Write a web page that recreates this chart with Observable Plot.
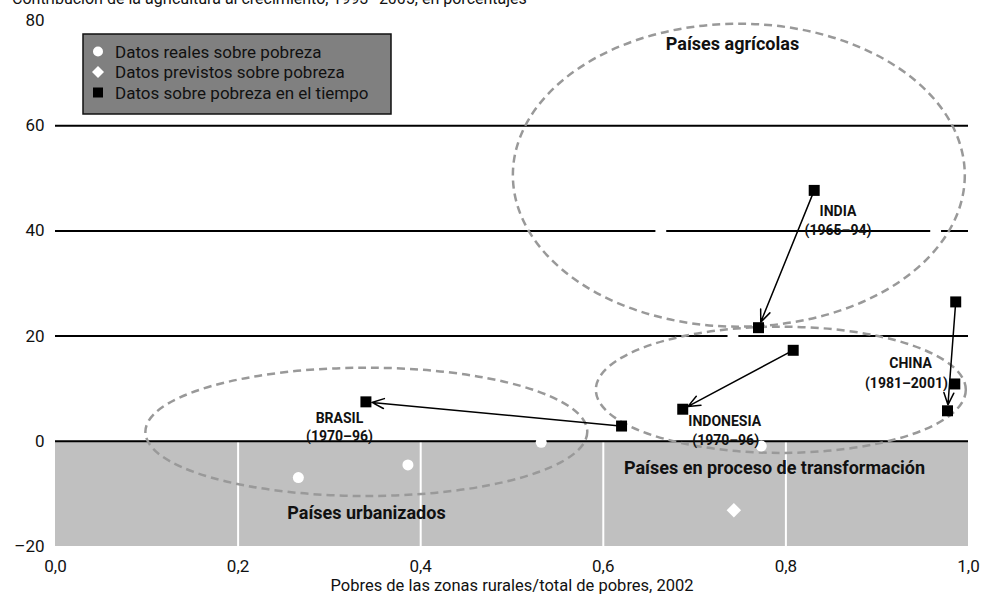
<!DOCTYPE html>
<html>
<head>
<meta charset="utf-8">
<script src="https://cdn.jsdelivr.net/npm/d3@7"></script>
<script src="https://cdn.jsdelivr.net/npm/@observablehq/plot@0.6"></script>
<style>
  body { margin: 0; background: white; width: 982px; height: 599px; overflow: hidden; position: relative;
         font-family: Roboto, "Liberation Sans", sans-serif; }
  #title { position: absolute; top: -9px; left: 12px; font-size: 16px; line-height: 16px; color: #111; white-space: nowrap; z-index: 2; }
  #chart { position: absolute; top: 0; left: 0; z-index: 1; }
</style>
</head>
<body>
<div id="title">Contribución de la agricultura al crecimiento, 1993–2005, en porcentajes</div>
<div id="chart"></div>
<script>
// ---- data ----
const xDomain = [0, 1];
const yDomain = [-20, 80];
const xTicks = [0, 0.2, 0.4, 0.6, 0.8, 1.0];
const xTickLabels = ["0,0", "0,2", "0,4", "0,6", "0,8", "1,0"];
const yTicks = [-20, 0, 20, 40, 60, 80];
const yTickLabels = ["–20", "0", "20", "40", "60", "80"];
const hLines = [0, 20, 40, 60];

// actual poverty data (white circles)
const realX = [0.663, 0.964, 0.742, 0.266, 0.386, 0.532, 0.773];
const realY = [40, 40, 20, -6.9, -4.5, -0.2, -0.9];
// predicted poverty data (white diamond)
const predX = [0.743];
const predY = [-13.1];
// poverty data over time (black squares)
const india = [{x: 0.831, y: 47.7}, {x: 0.770, y: 21.6}];
const indonesia = [{x: 0.808, y: 17.3}, {x: 0.687, y: 6.1}];
const brasil = [{x: 0.620, y: 2.9}, {x: 0.340, y: 7.5}];
const china = [{x: 0.986, y: 26.5}, {x: 0.985, y: 10.9}, {x: 0.977, y: 5.8}];
const series = [india, indonesia, brasil, china];

// group ellipses (data coordinates)
const groups = [
  {cx: 0.749, cy: 50.5, rx: 0.2475, ry: 28.8},
  {cx: 0.341, cy: 1.7, rx: 0.242, ry: 12.2},
  {cx: 0.795, cy: 9.7, rx: 0.2026, ry: 12.0}
];
const groupLabels = ["Países agrícolas", "Países urbanizados", "Países en proceso de transformación"];
const groupLabelX = [0.7415, 0.3406, 0.7875];
const groupLabelY = [75.4, -13.7, -5.1];

const countryNames = ["INDIA", "(1965–94)", "BRASIL", "(1970–96)", "INDONESIA", "(1970–96)", "CHINA", "(1981–2001)"];
const countryX = [0.857, 0.857, 0.311, 0.311, 0.733, 0.734, 0.9365, 0.932];
const countryY = [43.6, 40.0, 4.4, 0.95, 3.8, 0.2, 14.7, 10.9];

const legendItems = ["Datos reales sobre pobreza", "Datos previstos sobre pobreza", "Datos sobre pobreza en el tiempo"];
const xLabel = "Pobres de las zonas rurales/total de pobres, 2002";

// ---- build ----
const FONT = 'Roboto, "Liberation Sans", sans-serif';
const realPts = realX.map((x, i) => ({x, y: realY[i]}));
const predPts = predX.map((x, i) => ({x, y: predY[i]}));
const squares = series.flat();
const arrows = series.map(s => ({x1: s[0].x, y1: s[0].y, x2: s[s.length - 1].x, y2: s[s.length - 1].y}));
const gLabels = groupLabels.map((t, i) => ({t, x: groupLabelX[i], y: groupLabelY[i]}));
const cLabels = countryNames.map((t, i) => ({t, x: countryX[i], y: countryY[i]}));

function ellipseMark(index, scales) {
  const g = d3.create("svg:g");
  for (const e of groups) {
    const cx = scales.x(e.cx), cy = scales.y(e.cy);
    g.append("ellipse")
      .attr("cx", cx).attr("cy", cy)
      .attr("rx", Math.abs(scales.x(e.cx + e.rx) - cx))
      .attr("ry", Math.abs(scales.y(e.cy - e.ry) - cy))
      .attr("fill", "none").attr("stroke", "#999")
      .attr("stroke-width", 2.5).attr("stroke-dasharray", "8,5");
  }
  return g.node();
}

function legendMark(index, scales, values, dims) {
  const g = d3.create("svg:g");
  const x0 = dims.marginLeft + 28, y0 = dims.marginTop + 14;
  g.append("rect").attr("x", x0).attr("y", y0).attr("width", 308).attr("height", 80)
    .attr("fill", "#808080").attr("stroke", "#111").attr("stroke-width", 1.5);
  legendItems.forEach((t, i) => {
    const cy = y0 + 17.5 + i * 20.5;
    const mx = x0 + 15;
    if (i === 0) g.append("circle").attr("cx", mx).attr("cy", cy).attr("r", 5).attr("fill", "white");
    else if (i === 1) g.append("path").attr("d", `M${mx},${cy - 6}L${mx + 6},${cy}L${mx},${cy + 6}L${mx - 6},${cy}Z`).attr("fill", "white");
    else g.append("rect").attr("x", mx - 5).attr("y", cy - 5).attr("width", 10).attr("height", 10).attr("fill", "black");
    g.append("text").attr("x", x0 + 32).attr("y", cy).attr("dy", "0.36em")
      .attr("text-anchor", "start")
      .attr("font-size", 17).attr("font-family", FONT).attr("fill", "#111").text(t);
  });
  return g.node();
}

const chart = Plot.plot({
  width: 982,
  height: 599,
  marginLeft: 55,
  marginRight: 14,
  marginTop: 20,
  marginBottom: 53,
  style: {fontFamily: FONT, fontSize: "17px", color: "#111", background: "transparent"},
  x: {domain: xDomain, ticks: xTicks, tickFormat: d => xTickLabels[xTicks.indexOf(d)], tickSize: 0, tickPadding: 13, label: null},
  y: {domain: yDomain, ticks: yTicks, tickFormat: d => yTickLabels[yTicks.indexOf(d)], tickSize: 0, tickPadding: 11, label: null},
  marks: [
    Plot.rect([{}], {x1: xDomain[0], x2: xDomain[1], y1: yDomain[0], y2: 0, fill: "#c0c0c0"}),
    Plot.ruleX(xTicks.slice(1, -1), {y1: yDomain[0], y2: 0, stroke: "white", strokeWidth: 2}),
    Plot.ruleY(hLines, {stroke: "black", strokeWidth: 2}),
    ellipseMark,
    Plot.arrow(arrows, {x1: "x1", y1: "y1", x2: "x2", y2: "y2", stroke: "black", strokeWidth: 1.5, headLength: 13, headAngle: 45, insetEnd: 6, insetStart: 4}),
    Plot.dot(realPts, {x: "x", y: "y", r: 5.5, fill: "white"}),
    Plot.dot(predPts, {x: "x", y: "y", r: 6.5, symbol: "diamond2", fill: "white"}),
    Plot.dot(squares, {x: "x", y: "y", r: 6.2, symbol: "square", fill: "black"}),
    Plot.text(gLabels, {x: "x", y: "y", text: "t", fontSize: 18, fontWeight: "bold", fill: "#111"}),
    Plot.text(cLabels, {x: "x", y: "y", text: "t", fontSize: 14, fontWeight: "bold", fill: "#111"}),
    legendMark,
    Plot.text([xLabel], {frameAnchor: "bottom", dy: 44, fontSize: 16.5, fill: "#111"})
  ]
});
document.getElementById("chart").appendChild(chart);
</script>
</body>
</html>
